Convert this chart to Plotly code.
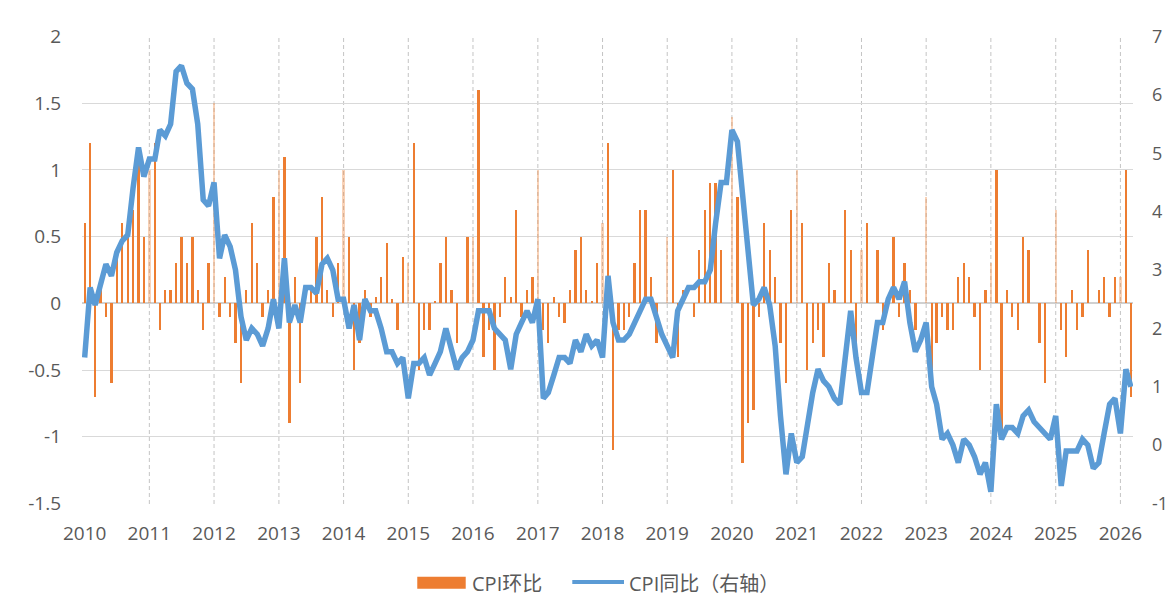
import pandas as pd
import plotly.graph_objects as go

# ---------------- data ----------------
start_month = "2010-01-01"

# CPI year-on-year (%), monthly, Jan 2010 - Mar 2026 (right axis)
cpi_yoy = [
    1.5, 2.7, 2.4, 2.8, 3.1, 2.9, 3.3, 3.5, 3.6, 4.4, 5.1, 4.6,   # 2010
    4.9, 4.9, 5.4, 5.3, 5.5, 6.4, 6.5, 6.2, 6.1, 5.5, 4.2, 4.1,   # 2011
    4.5, 3.2, 3.6, 3.4, 3.0, 2.2, 1.8, 2.0, 1.9, 1.7, 2.0, 2.5,   # 2012
    2.0, 3.2, 2.1, 2.4, 2.1, 2.7, 2.7, 2.6, 3.1, 3.2, 3.0, 2.5,   # 2013
    2.5, 2.0, 2.4, 1.8, 2.5, 2.3, 2.3, 2.0, 1.6, 1.6, 1.4, 1.5,   # 2014
    0.8, 1.4, 1.4, 1.5, 1.2, 1.4, 1.6, 2.0, 1.6, 1.3, 1.5, 1.6,   # 2015
    1.8, 2.3, 2.3, 2.3, 2.0, 1.9, 1.8, 1.3, 1.9, 2.1, 2.3, 2.1,   # 2016
    2.5, 0.8, 0.9, 1.2, 1.5, 1.5, 1.4, 1.8, 1.6, 1.9, 1.7, 1.8,   # 2017
    1.5, 2.9, 2.1, 1.8, 1.8, 1.9, 2.1, 2.3, 2.5, 2.5, 2.2, 1.9,   # 2018
    1.7, 1.5, 2.3, 2.5, 2.7, 2.7, 2.8, 2.8, 3.0, 3.8, 4.5, 4.5,   # 2019
    5.4, 5.2, 4.3, 3.3, 2.4, 2.5, 2.7, 2.4, 1.7, 0.5, -0.5, 0.2,  # 2020
    -0.3, -0.2, 0.4, 0.9, 1.3, 1.1, 1.0, 0.8, 0.7, 1.5, 2.3, 1.5, # 2021
    0.9, 0.9, 1.5, 2.1, 2.1, 2.5, 2.7, 2.5, 2.8, 2.1, 1.6, 1.8,   # 2022
    2.1, 1.0, 0.7, 0.1, 0.2, 0.0, -0.3, 0.1, 0.0, -0.2, -0.5, -0.3,  # 2023
    -0.8, 0.7, 0.1, 0.3, 0.3, 0.2, 0.5, 0.6, 0.4, 0.3, 0.2, 0.1,  # 2024
    0.5, -0.7, -0.1, -0.1, -0.1, 0.1, 0.0, -0.4, -0.3, 0.2, 0.7, 0.8,  # 2025
    0.2, 1.3, 1.0,                                                 # 2026
]

# CPI month-on-month (%), monthly, Jan 2010 - Mar 2026 (left axis)
cpi_mom = [
    0.6, 1.2, -0.7, 0.1, -0.1, -0.6, 0.4, 0.6, 0.5, 0.7, 1.1, 0.5,    # 2010
    1.0, 1.2, -0.2, 0.1, 0.1, 0.3, 0.5, 0.3, 0.5, 0.1, -0.2, 0.3,     # 2011
    1.5, -0.1, 0.2, -0.1, -0.3, -0.6, 0.1, 0.6, 0.3, -0.1, 0.1, 0.8,  # 2012
    1.0, 1.1, -0.9, 0.2, -0.6, 0.0, 0.1, 0.5, 0.8, 0.1, -0.1, 0.3,    # 2013
    1.0, 0.5, -0.5, -0.3, 0.1, -0.1, 0.05, 0.2, 0.45, 0.03, -0.2, 0.35,  # 2014
    0.3, 1.2, -0.5, -0.2, -0.2, 0.02, 0.3, 0.5, 0.1, -0.3, 0.0, 0.5,  # 2015
    0.5, 1.6, -0.4, -0.2, -0.5, -0.1, 0.2, 0.05, 0.7, -0.1, 0.1, 0.2, # 2016
    1.0, -0.2, -0.3, 0.05, -0.1, -0.15, 0.1, 0.4, 0.5, 0.1, 0.02, 0.3,  # 2017
    0.6, 1.2, -1.1, -0.2, -0.2, -0.1, 0.3, 0.7, 0.7, 0.2, -0.3, 0.0,  # 2018
    0.5, 1.0, -0.4, 0.1, 0.0, -0.1, 0.4, 0.7, 0.9, 0.9, 0.4, 0.0,     # 2019
    1.4, 0.8, -1.2, -0.9, -0.8, -0.1, 0.6, 0.4, 0.2, -0.3, -0.6, 0.7, # 2020
    1.0, 0.6, -0.5, -0.3, -0.2, -0.4, 0.3, 0.1, 0.0, 0.7, 0.4, -0.3,  # 2021
    0.4, 0.6, 0.0, 0.4, -0.2, 0.0, 0.5, -0.1, 0.3, 0.1, -0.2, 0.0,    # 2022
    0.8, -0.5, -0.3, -0.1, -0.2, -0.2, 0.2, 0.3, 0.2, -0.1, -0.5, 0.1,  # 2023
    0.3, 1.0, -1.0, 0.1, -0.1, -0.2, 0.5, 0.4, 0.0, -0.3, -0.6, 0.0,  # 2024
    0.7, -0.2, -0.4, 0.1, -0.2, -0.1, 0.4, 0.0, 0.1, 0.2, -0.1, 0.2,  # 2025
    0.2, 1.0, -0.7,                                                    # 2026
]

years = list(range(2010, 2027))
year_labels = [str(y) for y in years]

left_ticks = [-1.5, -1, -0.5, 0, 0.5, 1, 1.5, 2]
left_tick_labels = ["-1.5", "-1", "-0.5", "0", "0.5", "1", "1.5", "2"]
right_ticks = [-1, 0, 1, 2, 3, 4, 5, 6, 7]
right_tick_labels = ["-1", "0", "1", "2", "3", "4", "5", "6", "7"]

name_mom = "CPI环比"
name_yoy = "CPI同比（右轴）"

# ---------------- styling ----------------
ORANGE = "#ED7D31"
ORANGE_FAINT = "rgba(237,125,49,0.35)"
BLUE = "#5B9BD5"
TXT = "#595959"
FONT = "Open Sans, Noto Sans CJK SC, sans-serif"

# tiny padding so the gridlines at the axis ends are drawn
pad = 0.004
left_range = [left_ticks[0] - pad, left_ticks[-1] + pad]
span_ratio = (right_ticks[-1] - right_ticks[0]) / (left_ticks[-1] - left_ticks[0])
right_range = [right_ticks[0] - pad * span_ratio, right_ticks[-1] + pad * span_ratio]

dates = pd.date_range(start_month, periods=len(cpi_yoy), freq="MS")
bar_colors = [ORANGE_FAINT if (d.month == 1 and d.year > years[0]) else ORANGE for d in dates]
year_dates = [f"{y}-01-01" for y in years]

fig = go.Figure()

fig.add_trace(go.Bar(
    x=dates, y=cpi_mom, name=name_mom,
    marker=dict(color=bar_colors, line=dict(width=0)),
    width=13 * 24 * 3600 * 1000,
    yaxis="y", showlegend=False,
))

fig.add_trace(go.Scatter(
    x=dates, y=cpi_yoy, name=name_yoy, mode="lines",
    line=dict(color=BLUE, width=5.5, shape="linear"),
    yaxis="y2", showlegend=False,
))

# vertical dashed year gridlines (none at the first year, as in the reference)
for yd in year_dates[1:]:
    fig.add_shape(type="line", xref="x", yref="paper", x0=yd, x1=yd, y0=0, y1=1,
                  line=dict(color="#c4c4c4", width=1, dash="4px,3px"), layer="below")

# legend (drawn manually to match the wide swatches)
fig.add_shape(type="rect", xref="paper", yref="paper",
              x0=0.3190, x1=0.3651, y0=-0.1810, y1=-0.1553,
              fillcolor=ORANGE, line=dict(width=0))
fig.add_annotation(xref="paper", yref="paper", x=0.3690, y=-0.1700,
                   text=name_mom, showarrow=False, xanchor="left", yanchor="middle",
                   font=dict(family=FONT, size=20, color=TXT))
fig.add_shape(type="line", xref="paper", yref="paper",
              x0=0.4665, x1=0.5157, y0=-0.1667, y1=-0.1667,
              line=dict(color=BLUE, width=4))
fig.add_annotation(xref="paper", yref="paper", x=0.5190, y=-0.1700,
                   text=name_yoy, showarrow=False, xanchor="left", yanchor="middle",
                   font=dict(family=FONT, size=20, color=TXT))

# page body has an 8px default margin, so the figure is offset by 8px
fig.update_layout(
    width=1167, height=607,
    margin=dict(l=74, r=42, t=28, b=111, autoexpand=False),
    paper_bgcolor="white", plot_bgcolor="white",
    font=dict(family=FONT, color=TXT, size=19),
    bargap=0,
    xaxis=dict(
        type="date",
        range=["2009-12-17", "2026-03-13"],
        tickvals=year_dates, ticktext=year_labels,
        showgrid=False, zeroline=False, showline=False, ticks="",
        tickfont=dict(size=19, color=TXT),
        ticklabelstandoff=16, automargin=False,
    ),
    yaxis=dict(
        range=left_range,
        tickvals=left_ticks, ticktext=left_tick_labels,
        showgrid=True, gridcolor="#d9d9d9", gridwidth=1.3,
        zeroline=True, zerolinecolor="#d0d0d0", zerolinewidth=2,
        showline=False, ticks="",
        tickfont=dict(size=19, color=TXT),
        ticklabelstandoff=20, automargin=False,
    ),
    yaxis2=dict(
        range=right_range, overlaying="y", side="right",
        tickvals=right_ticks, ticktext=right_tick_labels,
        showgrid=False, zeroline=False, showline=False, ticks="",
        tickfont=dict(size=18, color=TXT),
        ticklabelstandoff=18, automargin=False,
    ),
)

fig.write_html("out.html")
